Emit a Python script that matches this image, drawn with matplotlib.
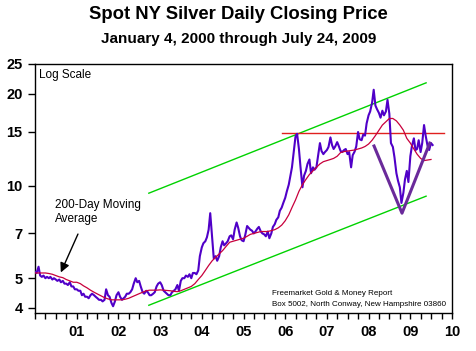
import matplotlib
matplotlib.use('Agg')
import matplotlib.pyplot as plt
import matplotlib.dates as mdates
import pandas as pd

plt.rcParams['font.family'] = ['Liberation Sans', 'DejaVu Sans']

# semi-monthly closing prices (Jan 2000 .. Jul 2009)
price_2000 = [5.25, 5.2, 5.45, 5.1, 5.05, 5.1, 5.0, 5.05, 5.0, 5.05, 4.95, 5.0,
              4.95, 4.9, 4.95, 4.85, 4.9, 4.8, 4.8, 4.75, 4.85, 4.7, 4.7, 4.6]
price_2001 = [4.6, 4.55, 4.55, 4.4, 4.45, 4.35, 4.35, 4.3, 4.4, 4.45, 4.4, 4.35,
              4.3, 4.25, 4.25, 4.2, 4.25, 4.6, 4.4, 4.35, 4.15, 4.05, 4.2, 4.4]
price_2002 = [4.5, 4.35, 4.25, 4.3, 4.35, 4.45, 4.45, 4.5, 4.6, 4.8, 5.0, 4.85,
              4.9, 4.7, 4.5, 4.45, 4.55, 4.5, 4.4, 4.4, 4.45, 4.5, 4.7, 4.8]
price_2003 = [4.85, 4.75, 4.55, 4.5, 4.45, 4.4, 4.4, 4.5, 4.55, 4.6, 4.75, 4.55,
              4.9, 5.0, 5.0, 5.1, 5.05, 5.15, 5.0, 5.2, 5.2, 5.15, 5.3, 5.9]
price_2004 = [6.3, 6.5, 6.6, 6.8, 7.2, 8.15, 6.8, 5.8, 5.9, 5.7, 5.9, 6.3,
              6.6, 6.4, 6.5, 6.6, 6.85, 6.9, 6.7, 7.2, 7.6, 7.3, 6.85, 6.65]
price_2005 = [6.6, 6.9, 7.4, 7.3, 7.2, 7.15, 7.0, 7.1, 7.25, 7.35, 7.1, 7.0,
              6.95, 6.85, 7.1, 6.75, 7.0, 7.35, 7.5, 7.75, 7.9, 8.3, 8.5, 8.8]
price_2006 = [9.15, 9.6, 10.1, 10.8, 11.5, 12.8, 14.5, 14.8, 13.2, 11.5, 9.9, 10.8,
              11.2, 11.8, 12.2, 11.0, 11.5, 11.3, 11.5, 12.5, 13.8, 13.0, 12.7, 12.9]
price_2007 = [13.1, 13.4, 14.4, 13.6, 13.2, 13.45, 13.9, 13.5, 13.0, 12.9, 13.1, 13.2,
              12.7, 12.9, 11.5, 12.6, 12.95, 13.45, 15.0, 14.2, 14.1, 14.7, 14.6, 16.0]
price_2008 = [17.0, 17.5, 18.7, 20.6, 18.3, 17.8, 17.3, 16.7, 17.6, 17.0, 17.5, 19.1,
              17.2, 13.8, 13.4, 12.4, 11.0, 10.4, 9.9, 8.8, 9.5, 10.5, 11.2, 10.3]
price_2009 = [12.5, 13.5, 14.3, 13.1, 13.2, 14.1, 12.9, 13.8, 15.8, 14.6, 13.5, 13.1,
              13.8, 13.6]

# 200-day moving average, monthly readings
ma_2000 = [5.2, 5.2, 5.2, 5.2, 5.18, 5.15, 5.1, 5.05, 5.02, 4.95, 4.9, 4.85]
ma_2001 = [4.85, 4.8, 4.72, 4.65, 4.57, 4.5, 4.44, 4.38, 4.32, 4.28, 4.25, 4.25]
ma_2002 = [4.25, 4.25, 4.27, 4.3, 4.35, 4.4, 4.45, 4.5, 4.55, 4.57, 4.57, 4.57]
ma_2003 = [4.58, 4.57, 4.56, 4.55, 4.53, 4.52, 4.55, 4.6, 4.65, 4.7, 4.8, 4.95]
ma_2004 = [5.1, 5.3, 5.5, 5.7, 5.85, 6.0, 6.15, 6.35, 6.55, 6.6, 6.65, 6.7]
ma_2005 = [6.75, 6.85, 6.95, 7.0, 7.05, 7.1, 7.1, 7.1, 7.15, 7.2, 7.3, 7.45]
ma_2006 = [7.7, 8.05, 8.5, 9.0, 9.6, 10.1, 10.5, 10.9, 11.2, 11.5, 11.8, 12.0]
ma_2007 = [12.1, 12.2, 12.3, 12.5, 12.85, 12.95, 13.0, 13.05, 13.1, 13.2, 13.3, 13.45]
ma_2008 = [13.7, 14.1, 14.6, 15.2, 15.8, 16.2, 16.6, 16.6, 16.3, 15.8, 15.2, 14.3]
ma_2009 = [13.8, 13.2, 12.7, 12.3, 12.1, 12.15, 12.2]

# drawn trend lines
upper_channel_dates = ['2002-09-24', '2009-05-19']
upper_channel_vals = [9.47, 21.7]
lower_channel_dates = ['2002-09-24', '2009-05-19']
lower_channel_vals = [4.08, 9.26]
resist_dates = ['2005-12-01', '2009-10-22']
resist_vals = [14.9, 14.9]
v_dates = ['2008-02-18', '2008-10-20', '2009-06-20']
v_vals = [13.5, 8.15, 13.8]

year_ticks = ['2001', '2002', '2003', '2004', '2005', '2006', '2007', '2008', '2009', '2010']
year_labels = ['01', '02', '03', '04', '05', '06', '07', '08', '09', '10']
y_ticks = [4, 5, 7, 10, 15, 20, 25]

price = (price_2000 + price_2001 + price_2002 + price_2003 + price_2004 +
         price_2005 + price_2006 + price_2007 + price_2008 + price_2009)
ma = (ma_2000 + ma_2001 + ma_2002 + ma_2003 + ma_2004 +
      ma_2005 + ma_2006 + ma_2007 + ma_2008 + ma_2009)
price_dates = pd.date_range('2000-01-01', periods=len(price), freq='SMS')
ma_dates = pd.date_range('2000-01-01', periods=len(ma), freq='MS')

fig = plt.figure(figsize=(4.77, 3.51), dpi=100)
ax = fig.add_axes([0.0734, 0.1083, 0.8742, 0.7094])

ax.plot(price_dates, price, color='#5000C8', lw=1.5, zorder=3)
ax.plot(ma_dates, ma, color='#C8003C', lw=0.9, zorder=4)
ax.plot(pd.to_datetime(upper_channel_dates), upper_channel_vals, color='#00D200', lw=1.0, zorder=2)
ax.plot(pd.to_datetime(lower_channel_dates), lower_channel_vals, color='#00D200', lw=1.0, zorder=2)
ax.plot(pd.to_datetime(resist_dates), resist_vals, color='#E0201E', lw=1.0, zorder=2)
ax.plot(pd.to_datetime(v_dates), v_vals, color='#6A2A9A', lw=2.2, zorder=5)

ax.set_yscale('log')
ax.set_ylim(3.85, 25)
ax.set_yticks(y_ticks)
ax.set_yticklabels([str(v) for v in y_ticks])
ax.yaxis.set_minor_locator(matplotlib.ticker.NullLocator())

ax.set_xlim(pd.Timestamp('2000-01-01'), pd.Timestamp('2010-01-01'))
ax.set_xticks(pd.to_datetime(year_ticks))
ax.set_xticklabels(year_labels)
ax.xaxis.set_minor_locator(mdates.MonthLocator(bymonth=[1, 4, 7, 10]))

ax.tick_params(axis='y', which='major', length=5, width=1, pad=4, labelsize=10.5)
ax.tick_params(axis='x', which='both', length=4, width=1, direction='out', pad=5, labelsize=10.5)
for lab in ax.get_xticklabels() + ax.get_yticklabels():
    lab.set_fontweight('bold')
for sp in ax.spines.values():
    sp.set_linewidth(1)

ax.text(0.01, 0.956, 'Log Scale', transform=ax.transAxes, fontsize=8.5, va='center', ha='left')
ax.text(0.048, 0.458, '200-Day Moving\nAverage', transform=ax.transAxes, fontsize=8.5,
        va='top', ha='left', linespacing=1.2)
ax.annotate('', xy=(pd.Timestamp('2000-08-14'), 5.22), xycoords='data',
            xytext=(0.103, 0.317), textcoords='axes fraction',
            arrowprops=dict(arrowstyle='-|>', color='black', lw=1, mutation_scale=14,
                            shrinkA=0, shrinkB=0))
ax.text(0.568, 0.080, 'Freemarket Gold & Money Report', transform=ax.transAxes,
        fontsize=5.8, va='center', ha='left')
ax.text(0.568, 0.036, 'Box 5002, North Conway, New Hampshire 03860', transform=ax.transAxes,
        fontsize=5.8, va='center', ha='left')

fig.text(0.5, 0.960, 'Spot NY Silver Daily Closing Price', fontsize=13.3, fontweight='bold',
         ha='center', va='center')
fig.text(0.5, 0.889, 'January 4, 2000 through July 24, 2009', fontsize=11, fontweight='bold',
         ha='center', va='center')

fig.savefig('out.png', dpi=100)
